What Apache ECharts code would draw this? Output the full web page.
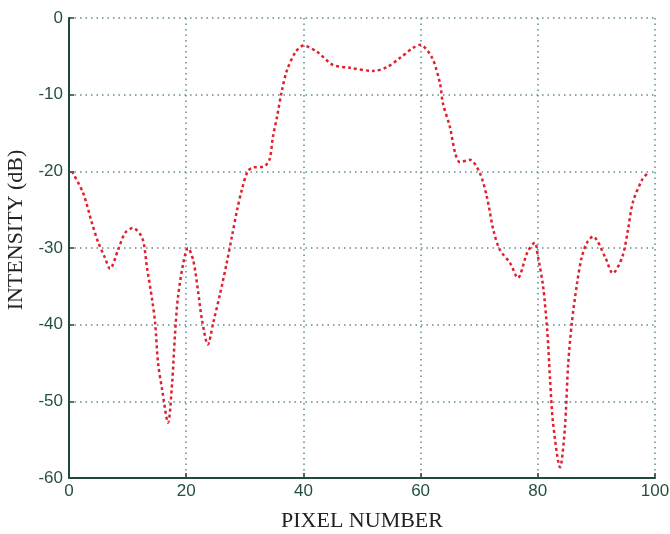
<!DOCTYPE html>
<html>
<head>
<meta charset="utf-8">
<script src="https://cdn.jsdelivr.net/npm/echarts@6/dist/echarts.min.js"></script>
<style>
  html, body { margin: 0; padding: 0; background: #fff; }
  #chart { width: 670px; height: 534px; }
</style>
</head>
<body>
<div id="chart"></div>
<script>
// pixel positions and intensity (dB)
var pixel = [0.5, 2.4, 3.9, 5, 6.1, 7, 8.4, 9.6, 10.9, 12.5, 13.3, 14.2, 14.7, 15.2, 15.9, 16.9,
  17.6, 18.1, 18.6, 19.5, 20.3, 21.2, 22, 22.7, 23.7, 24.6, 25.8, 26.9, 27.8, 28.7, 29.5, 30.5,
  31.4, 33.2, 34.2, 34.8, 35.5, 36.3, 37.2, 38.7, 40, 42.3, 45, 48, 51.9, 54.3, 56.5, 58.7,
  59.9, 61.9, 63.3, 63.8, 65, 65.9, 66.7, 68.4, 70.1, 71.3, 72.4, 73.5, 75.3, 76.6, 78.2, 79.5,
  80, 80.9, 81.6, 82.1, 82.6, 83.8, 84.6, 85.2, 85.8, 86.7, 87.5, 88.4, 89.4, 91.5, 92.8, 94.4,
  95.4, 96.2, 97.8, 98.8];
var intensity = [-20, -22.8, -26.7, -29.3, -31.2, -32.7, -30.2, -28, -27.4, -28.7, -32.5, -36.8, -39.8, -45, -48.5, -52.8,
  -47.6, -41.1, -36.4, -32, -30, -31.6, -35.5, -39.4, -42.6, -39.8, -35.9, -32, -28.5, -25, -22.4, -20,
  -19.5, -19.4, -18.5, -15.5, -12.9, -9.6, -6.8, -4.4, -3.6, -4.4, -6.1, -6.5, -6.9, -6.4, -5.2, -3.9,
  -3.5, -5.1, -8.5, -11.1, -14.2, -17.6, -18.8, -18.5, -20.2, -23.3, -27.6, -30.2, -32, -33.9, -30.6, -29.3,
  -31, -35, -40.7, -47.2, -52.8, -58.6, -53.7, -45, -39.8, -34.6, -31.2, -29.3, -28.5, -31.2, -33.3, -31.2,
  -27.6, -24.1, -21.1, -20.2];
var xTicks = [0, 20, 40, 60, 80, 100];
var yTicks = [-60, -50, -40, -30, -20, -10, 0];

var points = pixel.map(function (p, i) { return [p, intensity[i]]; });

var chart = echarts.init(document.getElementById('chart'));
var axisColor = '#1f4a3a';
var labelColor = '#24503f';
var gridColor = '#5f8c8c';

var option = {
  animation: false,
  grid: { left: 69, right: 15, top: 18, bottom: 56, outerBoundsMode: 'none', containLabel: false },
  xAxis: {
    type: 'value',
    min: xTicks[0],
    max: xTicks[xTicks.length - 1],
    interval: 20,
    name: 'PIXEL NUMBER',
    nameLocation: 'middle',
    nameGap: 32,
    nameTextStyle: { fontFamily: 'Liberation Serif', fontSize: 22, color: '#222' },
    axisLine: { onZero: false, lineStyle: { color: axisColor, width: 2 } },
    axisTick: { inside: true, length: 5, lineStyle: { color: axisColor, width: 1.5 } },
    axisLabel: { fontFamily: 'Liberation Sans', fontSize: 17, color: labelColor, margin: 5 },
    splitLine: { show: true, lineStyle: { color: gridColor, type: [1.5, 4], width: 1.5 } }
  },
  yAxis: {
    type: 'value',
    min: yTicks[0],
    max: yTicks[yTicks.length - 1],
    interval: 10,
    name: 'INTENSITY (dB)',
    nameLocation: 'middle',
    nameRotate: 90,
    nameGap: 31,
    nameTextStyle: { fontFamily: 'Liberation Serif', fontSize: 22, color: '#222', padding: [0, 0, 0, 36] },
    axisLine: { show: true, onZero: false, lineStyle: { color: axisColor, width: 2 } },
    axisTick: { show: true, inside: true, length: 5, lineStyle: { color: axisColor, width: 1.5 } },
    axisLabel: { fontFamily: 'Liberation Sans', fontSize: 17, color: labelColor, margin: 6 },
    splitLine: { show: true, lineStyle: { color: gridColor, type: [1.5, 4], width: 1.5 } }
  },
  series: [{
    type: 'line',
    data: points,
    smooth: 0.3,
    showSymbol: false,
    lineStyle: { color: '#e0202e', width: 2.5, type: [3, 3] }
  }]
};
chart.setOption(option);
</script>
</body>
</html>
